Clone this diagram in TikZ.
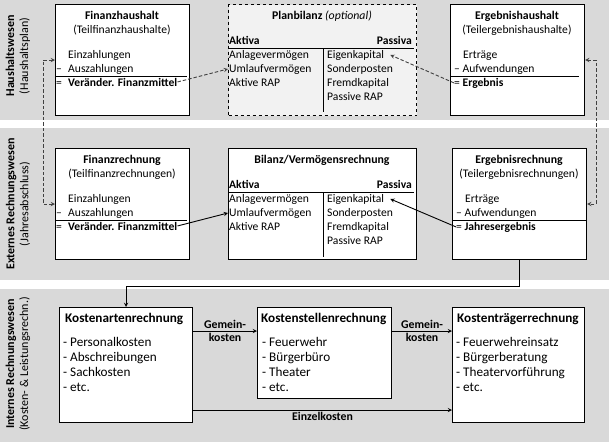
\documentclass[tikz,border=0pt]{standalone}
\usepackage{fontspec}
\setmainfont{Carlito}
\usetikzlibrary{shapes, arrows, calc, positioning}
\definecolor{bandgray}{HTML}{D9D9D9}
\definecolor{plangray}{HTML}{F2F2F2}

\begin{document}
\begin{tikzpicture}[x=1pt, y=-1pt, >=stealth]
	\tikzstyle{box} = [draw, line width=1.1pt, fill=white, anchor=north west, inner sep=0pt]
	\tikzstyle{txt} = [inner sep=0pt, anchor=base west, font=\fontsize{11.6}{14}\selectfont]
	\tikzstyle{ttl} = [txt, anchor=base, font=\fontsize{11.8}{14}\selectfont\bfseries]
	\tikzstyle{sub} = [txt, anchor=base]
	\tikzstyle{btxt} = [txt, font=\fontsize{13.2}{15}\selectfont]
	\tikzstyle{bttl} = [txt, font=\fontsize{13.2}{15}\selectfont\bfseries]
	\tikzstyle{side} = [rotate=90, align=center, inner sep=0pt, font=\fontsize{12}{14}\selectfont]
	\tikzstyle{lbl} = [align=center, inner sep=1pt, font=\fontsize{11.8}{12.5}\selectfont\bfseries]
	\tikzstyle{dashline} = [black!75, line width=0.9pt, dash pattern=on 3.5pt off 2pt]
	\tikzstyle{arr} = [line width=0.9pt]

	% bands
	\useasboundingbox (0,0) rectangle (609,442);
	\fill[bandgray] (0,0) rectangle (609,120);
	\fill[bandgray] (0,128) rectangle (609,280);
	\fill[bandgray] (0,289) rectangle (609,442);

	\node[side] (hw) at (18,56) {\textbf{Haushaltswesen}\\(Haushaltsplan)};
	\node[side] (erw) at (18,204) {\textbf{Externes Rechnungswesen}\\(Jahresabschluss)};
	\node[side] (irw) at (18,364) {\textbf{Internes Rechnungswesen}\\(Kosten- \& Leistungsrechn.)};

	% Haushaltsplan
	\node[box, minimum width=134, minimum height=111] (fh) at (55,4) {};
	\node[ttl] (fhT) at (122,19) {Finanzhaushalt};
	\node[sub] (fhS) at (122,33) {(Teilfinanzhaushalte)};
	\node[txt] (fhE) at (68,58) {Einzahlungen};
	\node[txt] (fhA) at (56,72) {\makebox[12pt][l]{--}Auszahlungen};
	\node[txt] (fhV) at (56,86) {\makebox[12pt][l]{=}\textbf{Veränder. Finanzmittel}};
	\draw[line width=0.9pt] (55,76) -- (187,76);

	\node[box, dashed, fill=plangray, minimum width=188, minimum height=111] (pb) at (228,4) {};
	\node[ttl] (pbT) at (322,19) {Planbilanz \textnormal{\itshape (optional)}};
	\node[txt, font=\fontsize{11.6}{14}\selectfont\bfseries] (pbAk) at (229,44) {Aktiva};
	\node[txt, anchor=base east, font=\fontsize{11.6}{14}\selectfont\bfseries] (pbPa) at (412,44) {Passiva};
	\draw[line width=0.9pt] (228,48) -- (414,48);
	\draw[line width=0.9pt] (323,48) -- (323,112);
	\node[txt] (pbAv) at (229,58) {Anlagevermögen};
	\node[txt] (pbUv) at (229,72) {Umlaufvermögen};
	\node[txt] (pbAr) at (229,86) {Aktive RAP};
	\node[txt] (pbEk) at (327,58) {Eigenkapital};
	\node[txt] (pbSp) at (327,72) {Sonderposten};
	\node[txt] (pbFk) at (327,86) {Fremdkapital};
	\node[txt] (pbPr) at (327,100) {Passive RAP};

	\node[box, minimum width=134, minimum height=111] (eh) at (450,4) {};
	\node[ttl] (ehT) at (517,19) {Ergebnishaushalt};
	\node[sub] (ehS) at (517,33) {(Teilergebnishaushalte)};
	\node[txt] (ehE) at (463,58) {Erträge};
	\node[txt] (ehA) at (454,72) {-- Aufwendungen};
	\node[txt] (ehR) at (454,86) {= \textbf{Ergebnis}};
	\draw[line width=0.9pt] (450,76) -- (579,76);

	% Jahresabschluss
	\node[box, minimum width=134, minimum height=111] (fr) at (55,148) {};
	\node[ttl] (frT) at (122,163) {Finanzrechnung};
	\node[sub] (frS) at (122,177) {(Teilfinanzrechnungen)};
	\node[txt] (frE) at (68,202) {Einzahlungen};
	\node[txt] (frA) at (56,216) {\makebox[12pt][l]{--}Auszahlungen};
	\node[txt] (frV) at (56,230) {\makebox[12pt][l]{=}\textbf{Veränder. Finanzmittel}};
	\draw[line width=0.9pt] (55,220) -- (187,220);

	\node[box, minimum width=188, minimum height=111] (bv) at (228,148) {};
	\node[ttl] (bvT) at (322,163) {Bilanz/Vermögensrechnung};
	\node[txt, font=\fontsize{11.6}{14}\selectfont\bfseries] (bvAk) at (229,188) {Aktiva};
	\node[txt, anchor=base east, font=\fontsize{11.6}{14}\selectfont\bfseries] (bvPa) at (412,188) {Passiva};
	\draw[line width=0.9pt] (228,192) -- (414,192);
	\draw[line width=0.9pt] (323,192) -- (323,257);
	\node[txt] (bvAv) at (229,202) {Anlagevermögen};
	\node[txt] (bvUv) at (229,216) {Umlaufvermögen};
	\node[txt] (bvAr) at (229,230) {Aktive RAP};
	\node[txt] (bvEk) at (327,202) {Eigenkapital};
	\node[txt] (bvSp) at (327,216) {Sonderposten};
	\node[txt] (bvFk) at (327,230) {Fremdkapital};
	\node[txt] (bvPr) at (327,244) {Passive RAP};

	\node[box, minimum width=134, minimum height=111] (er) at (452,148) {};
	\node[ttl] (erT) at (519,163) {Ergebnisrechnung};
	\node[sub] (erS) at (519,177) {(Teilergebnisrechnungen)};
	\node[txt] (erE) at (465,202) {Erträge};
	\node[txt] (erA) at (456,216) {-- Aufwendungen};
	\node[txt] (erR) at (456,230) {= \textbf{Jahresergebnis}};
	\draw[line width=0.9pt] (452,220) -- (586,220);

	% Kosten- und Leistungsrechnung
	\node[box, minimum width=133, minimum height=115] (ka) at (59,307) {};
	\node[bttl] (kaT) at (65,322) {Kostenartenrechnung};
	\node[btxt] (ka1) at (63,346) {- Personalkosten};
	\node[btxt] (ka2) at (63,361) {- Abschreibungen};
	\node[btxt] (ka3) at (63,376) {- Sachkosten};
	\node[btxt] (ka4) at (63,391) {- etc.};

	\node[box, minimum width=134, minimum height=91] (ks) at (257,307) {};
	\node[bttl] (ksT) at (261,322) {Kostenstellenrechnung};
	\node[btxt] (ks1) at (262,346) {- Feuerwehr};
	\node[btxt] (ks2) at (262,361) {- Bürgerbüro};
	\node[btxt] (ks3) at (262,376) {- Theater};
	\node[btxt] (ks4) at (262,391) {- etc.};

	\node[box, minimum width=132, minimum height=115] (kt) at (452,307) {};
	\node[bttl] (ktT) at (457,322) {Kostenträgerrechnung};
	\node[btxt] (kt1) at (456,346) {- Feuerwehreinsatz};
	\node[btxt] (kt2) at (456,361) {- Bürgerberatung};
	\node[btxt] (kt3) at (456,376) {- Theatervorführung};
	\node[btxt] (kt4) at (456,391) {- etc.};

	\coordinate (gk) at (0,331);
	\coordinate (ek) at (0,410);

	% connectors
	\path[->, dashline]
		(fhV.east) edge ([xshift=-1pt]pbUv.west)
		(ehR.west) edge ([xshift=6pt]pbEk.east)
	;
	\draw[<->, dashline] (fh.west) -- ++(-12,0) |- (fr.west);
	\draw[<->, dashline] (eh.east) -- ++(11,0) |- (er.east);

	\path[->, arr]
		(frV.east) edge ([xshift=-1pt]bvUv.west)
		(erR.west) edge ([xshift=6pt]bvEk.east)
	;
	\draw[->, arr] (er.south) -- ++(0,26) -| (ka.north);

	\draw[->, arr] (ka.east |- gk) -- node[lbl] {Gemein-\\kosten} (ks.west |- gk);
	\draw[->, arr] (ks.east |- gk) -- node[lbl] {Gemein-\\kosten} (kt.west |- gk);
	\draw[->, arr] (ka.east |- ek) -- node[lbl, below=1pt] {Einzelkosten} (kt.west |- ek);
\end{tikzpicture}
\end{document}
